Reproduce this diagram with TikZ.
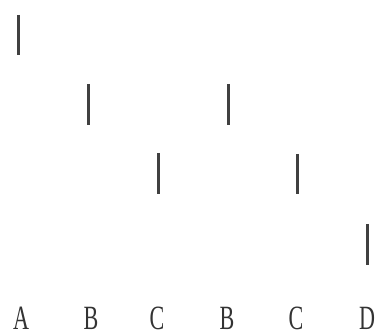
\documentclass[tikz,border=0pt]{standalone}
\usepackage{fontspec}
\setmainfont{Liberation Serif}
\begin{document}
\begin{tikzpicture}[x=1pt,y=-1pt,
  bar/.style={draw=black!75,line width=3pt},
  lab/.style={font=\fontsize{34}{34}\selectfont,text=black!80,inner sep=0pt,anchor=base}]
\useasboundingbox (0,0) rectangle (376,336);
\coordinate (b1t) at (18,15); \coordinate (b1b) at (18,55);
\coordinate (b2t) at (88,84); \coordinate (b2b) at (88,125);
\coordinate (b3t) at (158,153); \coordinate (b3b) at (158,194);
\coordinate (b4t) at (228,84); \coordinate (b4b) at (228,125);
\coordinate (b5t) at (297,154); \coordinate (b5b) at (297,194);
\coordinate (b6t) at (367,224); \coordinate (b6b) at (367,265);
\draw[bar] (b1t) -- (b1b);
\draw[bar] (b2t) -- (b2b);
\draw[bar] (b3t) -- (b3b);
\draw[bar] (b4t) -- (b4b);
\draw[bar] (b5t) -- (b5b);
\draw[bar] (b6t) -- (b6b);
\node[lab] (l1) at (21,330) {\scalebox{0.65}[1]{A}};
\node[lab] (l2) at (91,330) {\scalebox{0.65}[1]{B}};
\node[lab] (l3) at (157,330) {\scalebox{0.65}[1]{C}};
\node[lab] (l4) at (227,330) {\scalebox{0.65}[1]{B}};
\node[lab] (l5) at (296,330) {\scalebox{0.65}[1]{C}};
\node[lab] (l6) at (367,330) {\scalebox{0.65}[1]{D}};
\end{tikzpicture}
\end{document}
